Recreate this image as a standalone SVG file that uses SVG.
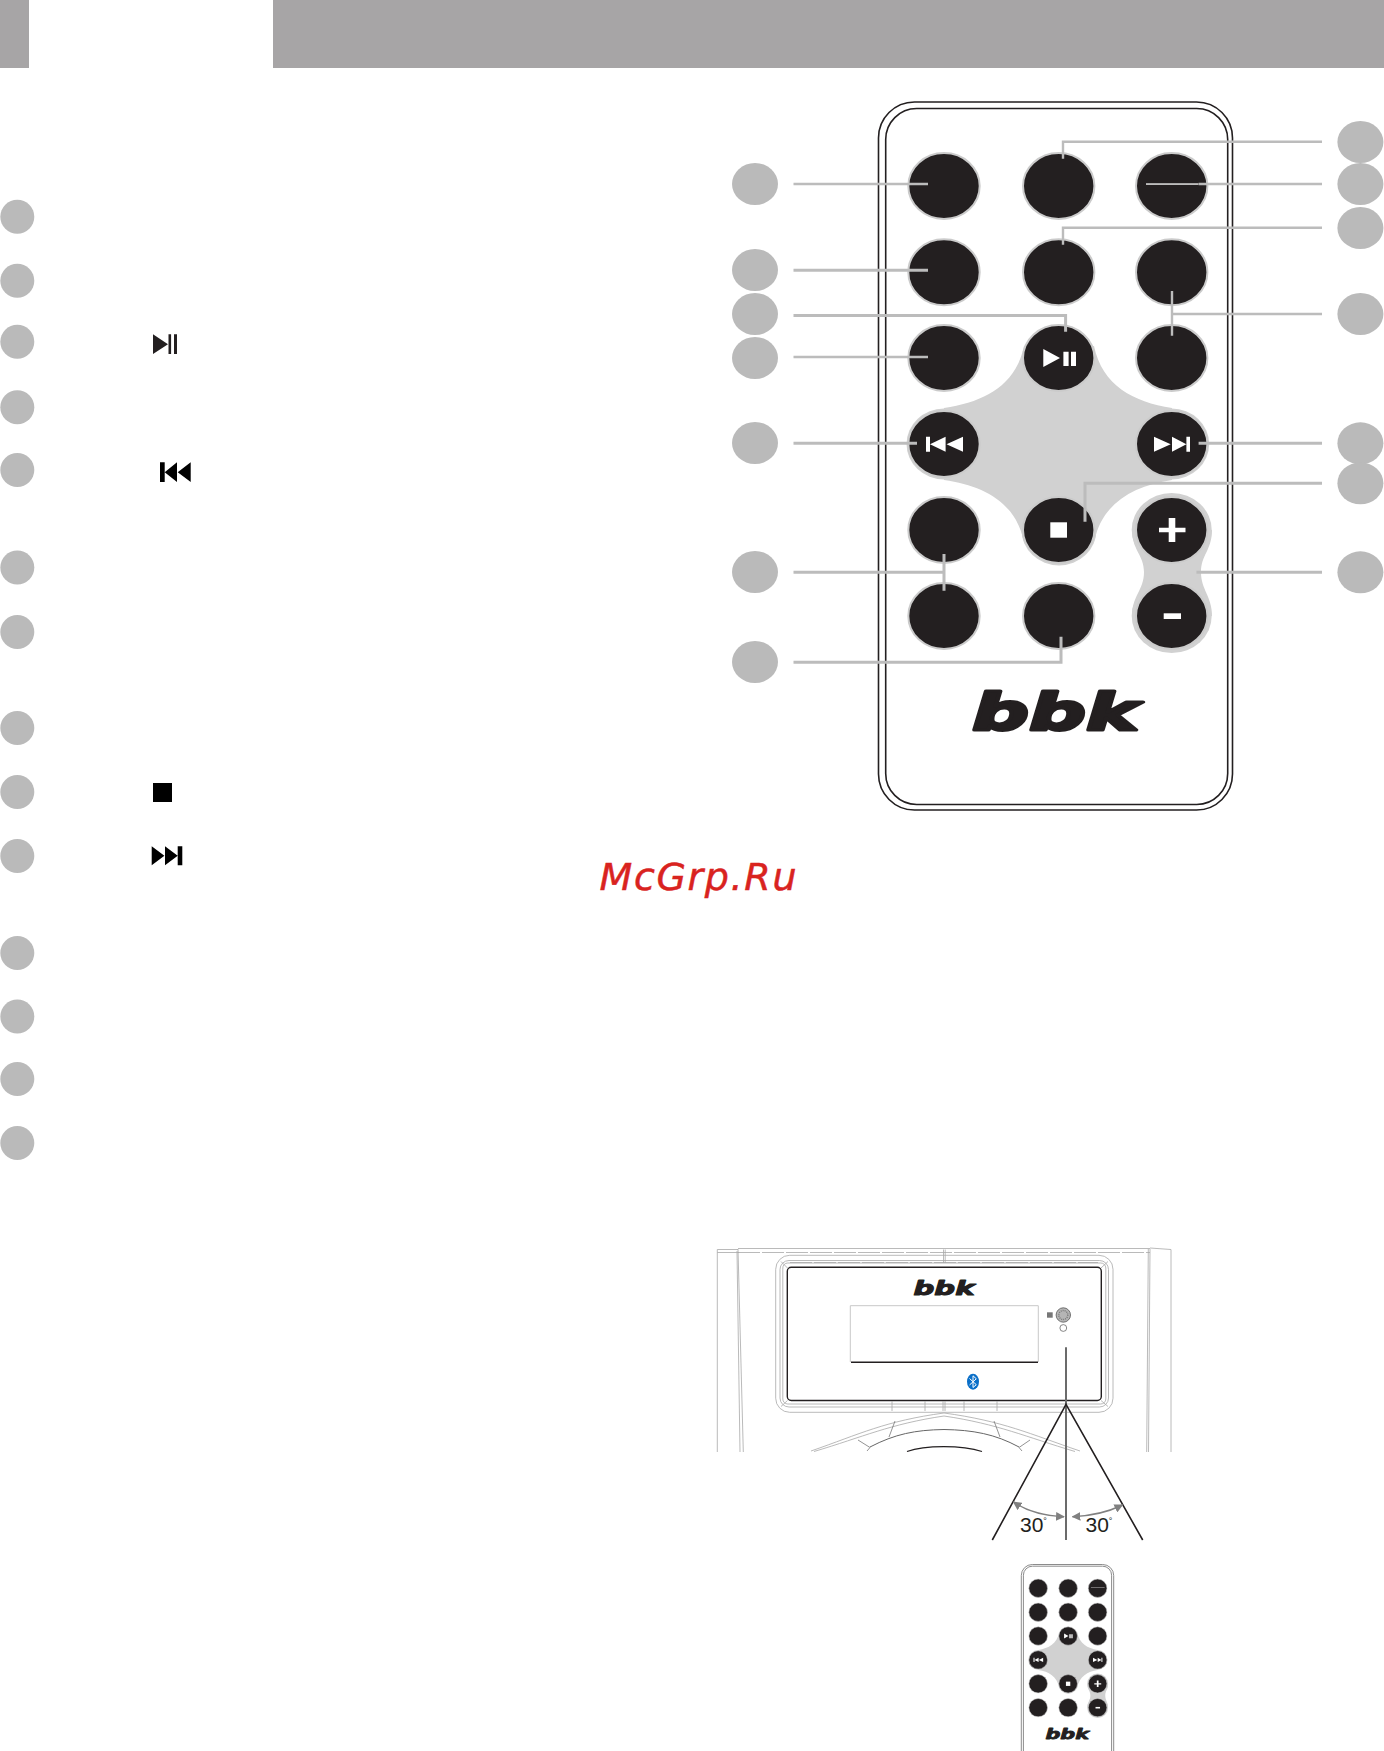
<svg xmlns="http://www.w3.org/2000/svg" width="1384" height="1751" viewBox="0 0 1384 1751">
<style>
.lab{fill:#bababa}
.btn{fill:#231f20;stroke:#cbcbcb;stroke-width:2}
.ic{fill:#fff}
.blk{fill:#000}
.halo{fill:#d1d1d1}
.con{fill:none;stroke:#bcbcbc;stroke-width:3}
.thin{stroke-width:2.4}
.logo{font-family:"DejaVu Sans",sans-serif;font-weight:700;font-style:italic;fill:#231f20;stroke:#231f20;stroke-linejoin:round}
.fr{fill:none;stroke:#a8a8a8;stroke-width:.8}
.frd{fill:none;stroke:#a8a8a8;stroke-width:.8;stroke-dasharray:22 2}
.deg{font-family:"Liberation Sans",Arial,sans-serif;font-size:21px;fill:#231f20}
</style>
<defs>
<marker id="ah" viewBox="0 0 10 10" refX="9" refY="5" markerWidth="5.5" markerHeight="5.5" orient="auto-start-reverse"><path d="M0 0L10 5L0 10Z" fill="#808080" stroke="none"/></marker>
</defs>
<rect x="0" y="0" width="29" height="68" fill="#a7a5a6"/>
<rect x="273" y="0" width="1111" height="68" fill="#a7a5a6"/>

<g id="list-markers">
<circle class="lab" cx="17.3" cy="216.7" r="17"/><circle class="lab" cx="17.3" cy="280.7" r="17"/><circle class="lab" cx="17.3" cy="341.7" r="17"/><circle class="lab" cx="17.3" cy="407.3" r="17"/><circle class="lab" cx="17.3" cy="470" r="17"/><circle class="lab" cx="17.3" cy="567.5" r="17"/><circle class="lab" cx="17.3" cy="632" r="17"/><circle class="lab" cx="17.3" cy="728" r="17"/><circle class="lab" cx="17.3" cy="792" r="17"/><circle class="lab" cx="17.3" cy="856" r="17"/><circle class="lab" cx="17.3" cy="953" r="17"/><circle class="lab" cx="17.3" cy="1016.5" r="17"/><circle class="lab" cx="17.3" cy="1079" r="17"/><circle class="lab" cx="17.3" cy="1143" r="17"/>
</g>
<g id="list-icons" fill="#231f20">
<path d="M153 334.3L168 344.2L153 354ZM168.5 334.3h2.6V354h-2.6ZM174 334.3h3V354h-3Z"/>
<path class="blk" d="M160 462.3h4.7V482H160ZM177 462.3V482L164.7 472.2ZM190.7 462.3V482L177.7 472.2Z"/>
<rect class="blk" x="153" y="783" width="19" height="19"/>
<path class="blk" d="M151.7 846.3L164.4 855.8L151.7 865.3ZM165 846.3L177.7 855.8L165 865.3ZM177.7 846.3h4.6v19h-4.6Z"/>
</g>

<g id="remote-body" fill="none" stroke="#231f20" stroke-width="1.6">
<rect x="878.5" y="102" width="354" height="708" rx="36" fill="#fff"/>
<rect x="885.7" y="108.5" width="342" height="696" rx="31"/>
</g>

<g id="remote-face">
<g id="pads">
<path class="halo" d="M1024 346C1016 385 985 402 944 408L944 480C985 486 1016 503 1024 542L1094 542C1102 503 1133 486 1172 480L1172 408C1133 402 1102 385 1094 346Z"/>
<ellipse class="halo" cx="944" cy="444" rx="37.5" ry="35.5"/><ellipse class="halo" cx="1171.7" cy="444" rx="37.5" ry="35.5"/><ellipse class="halo" cx="1059" cy="530" rx="37.5" ry="35.5"/>
<path class="halo" d="M1132 530C1132 550 1144 555 1144 572C1144 590 1132 596 1132 616L1212 616C1212 596 1201 590 1201 572C1201 555 1212 550 1212 530Z"/>
<ellipse class="halo" cx="1171.7" cy="530" rx="40" ry="37"/><ellipse class="halo" cx="1171.7" cy="616" rx="40" ry="37"/>
</g>
<g id="btn-1"><ellipse class="btn" cx="944" cy="186" rx="35.7" ry="33"/></g>
<g id="btn-2"><ellipse class="btn" cx="1058.7" cy="186" rx="35.7" ry="33"/></g>
<g id="btn-3"><ellipse class="btn" cx="1171.7" cy="186" rx="35.7" ry="33"/><rect class="ic" x="1146" y="183.4" width="52.5" height="1.3"/></g>
<g id="btn-4"><ellipse class="btn" cx="944" cy="272.3" rx="35.7" ry="33"/></g>
<g id="btn-5"><ellipse class="btn" cx="1058.7" cy="272.3" rx="35.7" ry="33"/></g>
<g id="btn-6"><ellipse class="btn" cx="1171.7" cy="272.3" rx="35.7" ry="33"/></g>
<g id="btn-7"><ellipse class="btn" cx="944" cy="358" rx="35.7" ry="33"/></g>
<g id="btn-play"><ellipse class="btn" cx="1058.7" cy="358" rx="35.7" ry="33" stroke="none"/><path class="ic" d="M1043.3 349L1060 358L1043.3 367ZM1063.4 351.7h5.2V366h-5.2ZM1071 351.7h5V366h-5Z"/></g>
<g id="btn-9"><ellipse class="btn" cx="1171.7" cy="358" rx="35.7" ry="33"/></g>
<g id="btn-prev"><ellipse class="btn" cx="944" cy="444" rx="35.7" ry="33" stroke="none"/><path class="ic" d="M926 436.7h4v15h-4ZM945.6 436.7V451.7L930 444.2ZM963 436.7V451.7L946.5 444.2Z"/></g>
<g id="btn-next"><ellipse class="btn" cx="1171.7" cy="444" rx="35.7" ry="33" stroke="none"/><path class="ic" d="M1154 436.7L1170.7 444.2L1154 451.7ZM1172 436.7L1186.4 444.2L1172 451.7ZM1186.4 436.7h3.6v15h-3.6Z"/></g>
<g id="btn-12"><ellipse class="btn" cx="944" cy="530" rx="35.7" ry="33"/></g>
<g id="btn-stop"><ellipse class="btn" cx="1058.7" cy="530" rx="35.7" ry="33" stroke="none"/><rect class="ic" x="1050.3" y="522.3" width="16.7" height="15.4"/></g>
<g id="btn-plus"><ellipse class="btn" cx="1171.7" cy="530" rx="35.7" ry="33" stroke="none"/><path class="ic" d="M1168.7 518h6.6v9.7h10.2v4.6h-10.2V542h-6.6v-9.7h-9.7v-4.6h9.7Z"/></g>
<g id="btn-15"><ellipse class="btn" cx="944" cy="616" rx="35.7" ry="33"/></g>
<g id="btn-16"><ellipse class="btn" cx="1058.7" cy="616" rx="35.7" ry="33"/></g>
<g id="btn-minus"><ellipse class="btn" cx="1171.7" cy="616" rx="35.7" ry="33" stroke="none"/><rect class="ic" x="1163.7" y="613.3" width="17.3" height="5.7"/></g>
<text id="logo" class="logo" x="972" y="730" font-size="52" stroke-width="3" textLength="167" lengthAdjust="spacingAndGlyphs">bbk</text>
</g>

<g id="connectors">
<path class="con thin" d="M793.5 184H928"/>
<path class="con" d="M793.5 270.3H928"/>
<path class="con" d="M793.5 315.5H1065.6V331.7"/>
<path class="con thin" d="M793.5 357H928"/>
<path class="con" d="M793.5 443.3H917"/>
<path class="con" d="M793.5 572.3H944M944 554V590.7"/>
<path class="con" d="M793.5 662.3H1061V636.7"/>
<path class="con thin" d="M1322 141.7H1063V158.7"/>
<path class="con thin" d="M1322 184H1198.6"/>
<path class="con thin" d="M1322 227.7H1063V244.7"/>
<path class="con thin" d="M1322 314H1172M1172 291V335.7"/>
<path class="con" d="M1322 443.3H1198.6"/>
<path class="con" d="M1322 483.3H1085V521.7"/>
<path class="con" d="M1322 572.3H1196.4"/>
</g>

<g id="labels-left">
<ellipse class="lab" cx="755" cy="184" rx="23" ry="21"/><ellipse class="lab" cx="755" cy="270" rx="23" ry="21"/><ellipse class="lab" cx="755" cy="314" rx="23" ry="21"/><ellipse class="lab" cx="755" cy="358" rx="23" ry="21"/><ellipse class="lab" cx="755" cy="443" rx="23" ry="21"/><ellipse class="lab" cx="755" cy="572" rx="23" ry="21"/><ellipse class="lab" cx="755" cy="662" rx="23" ry="21"/>
</g>
<g id="labels-right">
<ellipse class="lab" cx="1360.4" cy="142" rx="23" ry="21"/><ellipse class="lab" cx="1360.4" cy="184" rx="23" ry="21"/><ellipse class="lab" cx="1360.4" cy="228" rx="23" ry="21"/><ellipse class="lab" cx="1360.4" cy="314" rx="23" ry="21"/><ellipse class="lab" cx="1360.4" cy="443.3" rx="23" ry="21"/><ellipse class="lab" cx="1360.4" cy="483.3" rx="23" ry="21"/><ellipse class="lab" cx="1360.4" cy="572.3" rx="23" ry="21"/>
</g>

<text id="watermark" x="599.5" y="890" font-family="'DejaVu Sans',sans-serif" font-style="italic" font-size="38" fill="#d9231f" stroke="#d9231f" stroke-width=".5" textLength="197">McGrp.Ru</text>

<g id="device">
<path class="fr" d="M717.3 1452V1249.5H738M1171 1452V1249.5L1150 1248"/>
<path class="frd" d="M717.3 1252.5H740"/>
<path class="fr" d="M738 1249L743.3 1452M737 1251L740 1452M1148.3 1249L1146.7 1452M1150 1249L1148.5 1452"/>
<path class="fr" d="M738 1248.5H1150"/>
<path class="frd" d="M738 1252.5H1150"/>
<path class="fr" d="M943.5 1249.5V1263M945.2 1249.5V1263" stroke-width="1"/>
<rect class="fr" x="775.7" y="1255.3" width="337.3" height="157" rx="14"/>
<path class="frd" d="M790 1262.5H1098"/>
<rect class="fr" x="780" y="1260.5" width="328.5" height="146.5" rx="9"/>
<rect class="fr" x="782.8" y="1263" width="323" height="141" rx="5"/>
<path class="fr" d="M781 1261.5L787.5 1268M1108 1261.5L1101 1268M781 1406.5L787.5 1400.5M1108 1406.5L1101 1400.5"/>
<rect x="787.3" y="1267.3" width="314" height="133.2" rx="4" fill="none" stroke="#231f20" stroke-width="1.4"/>
<path class="fr" d="M892 1401V1411M925 1401V1411M943 1401V1411M945 1401V1411M964 1401V1411M997 1401V1411"/>
<path class="fr" d="M811 1451C860 1434 885 1421 944 1413C1003 1421 1030 1434 1080 1451M814 1451.5C863 1437 890 1424 944 1416C998 1424 1026 1437 1075 1451.5"/>
<path class="fr" stroke="#555" d="M870 1447C895 1434 915 1430 944 1429.5C973 1430 995 1434 1019 1447" style="stroke:#666;stroke-width:1"/>
<path class="fr" style="stroke:#777" d="M858 1440L870 1447.5L867 1451M1030 1440L1019 1447.5L1022 1451M895 1421L889 1437M994 1421L1000 1437"/>
<path d="M907 1451.5C925 1445 962 1445 982 1451.5" fill="none" stroke="#231f20" stroke-width="1.2"/>
<path d="M850.3 1362V1305.7H1038.3V1362" fill="none" stroke="#c8c8c8" stroke-width="1"/>
<path d="M851 1362.3H1038" fill="none" stroke="#231f20" stroke-width="1.4"/>
<text class="logo" x="913.5" y="1294.5" font-size="20" stroke-width="1.1" textLength="61" lengthAdjust="spacingAndGlyphs">bbk</text>
<ellipse cx="973" cy="1381.7" rx="6" ry="8" fill="#0a6fc8"/>
<path d="M969.5 1378.5L976.3 1384.7L973 1387.5V1375.8L976.3 1378.8L969.5 1385" fill="none" stroke="#fff" stroke-width="1"/>
<rect x="1047" y="1312.3" width="5.7" height="5.4" fill="#777"/>
<circle cx="1063.3" cy="1315" r="7.2" fill="#b5b5b5" stroke="#555" stroke-width=".8"/>
<circle cx="1063.3" cy="1315" r="4.5" fill="none" stroke="#777" stroke-width="1.4" stroke-dasharray="1 1"/>
<circle cx="1063.3" cy="1328" r="3.4" fill="#fff" stroke="#555" stroke-width=".7"/>
</g>

<g id="angle">
<path d="M1066 1347.3V1540" fill="none" stroke="#6b6b6b" stroke-width="2"/>
<path d="M992.3 1540L1066 1404.3L1142.7 1540" fill="none" stroke="#231f20" stroke-width="1.6"/>
<path d="M1013.5 1502C1028 1512 1045 1516 1064 1516.7" fill="none" stroke="#808080" stroke-width="1.6" marker-start="url(#ah)" marker-end="url(#ah)"/>
<path d="M1072.5 1516.7C1092 1516 1108 1512 1122.5 1505" fill="none" stroke="#808080" stroke-width="1.6" marker-start="url(#ah)" marker-end="url(#ah)"/>
<text class="deg" x="1020" y="1531.7">30<tspan font-size="9" dy="-8">°</tspan></text>
<text class="deg" x="1085.5" y="1531.7">30<tspan font-size="9" dy="-8">°</tspan></text>
</g>

<g id="small-remote">
<rect x="1021.3" y="1564.5" width="92.4" height="220" rx="11" fill="#fff" stroke="#8c8c8c" stroke-width="1"/>
<rect x="1023.4" y="1566.2" width="88.2" height="220" rx="9" fill="none" stroke="#8c8c8c" stroke-width="1"/>
<use href="#remote-face" transform="translate(791.8 1536.6) scale(.261 .2777)"/>
</g>
</svg>
